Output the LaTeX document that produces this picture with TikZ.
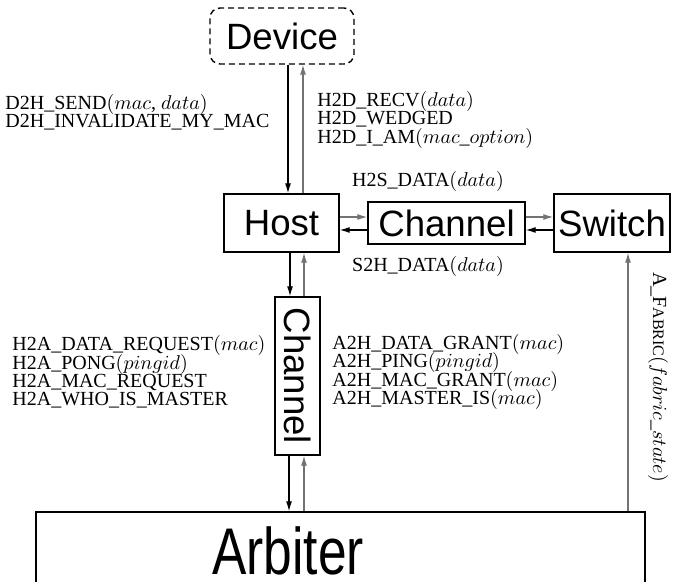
\documentclass[tikz,border=0pt]{standalone}
\usepackage{fontspec}
\setmainfont{Liberation Serif}
\setsansfont{Liberation Sans}
\usetikzlibrary{arrows.meta,calc,positioning}

\tikzset{
  blk/.style={draw,line width=0.7pt,inner sep=0pt,font=\fontsize{18.3}{20}\sffamily},
  msg/.style={font={\fontsize{10}{9.2}\selectfont\lineskiplimit=-10pt},inner sep=0pt,align=left},
  dn/.style={-{Latex[length=5pt,width=3pt]},line width=0.6pt},
  up/.style={dn,draw=black!55}
}

\begin{document}
\begin{tikzpicture}[x=0.5pt,y=-0.5pt]

\useasboundingbox (0,0) rectangle (681,582);
\clip (0,0) rectangle (681,582);

% boxes
\node[blk,dashed,dash pattern=on 3pt off 2pt,rounded corners=5pt,
      minimum width=72pt,minimum height=28pt] (device) at (282,36) {Device};
\node[blk,minimum width=57.5pt,minimum height=29pt] (host)   at (281.5,223) {Host};
\node[blk,minimum width=78.5pt,minimum height=21pt] (chanh)  at (446.5,223) {Channel};
\node[blk,minimum width=58pt,minimum height=29pt]   (switch) at (612,223)   {Switch};
\node[blk,minimum width=22.5pt,minimum height=79pt] (chanv)  at (297.5,376) {\rotatebox{-90}{Channel}};
\node[draw,line width=0.7pt,minimum width=304.5pt,minimum height=60pt] (arbiter) at (340.5,572) {};
\node[font=\fontsize{33}{34}\sffamily,anchor=base,inner sep=0pt] (arblabel) at (288,575) {\scalebox{0.78}[1]{Arbiter}};

% arrow end points
\coordinate (dh1) at ($(device.south)+(6,0)$);
\coordinate (dh2) at ($(device.south)+(21,0)$);
\coordinate (hc1) at ($(host.east)+(0,-6)$);
\coordinate (hc2) at ($(host.east)+(0,7)$);
\coordinate (cs1) at ($(chanh.east)+(0,-6)$);
\coordinate (cs2) at ($(chanh.east)+(0,7)$);
\coordinate (hv1) at ($(chanv.north)+(-7.5,0)$);
\coordinate (hv2) at ($(chanv.north)+(6.5,0)$);
\coordinate (va1) at ($(chanv.south)+(-8.5,0)$);
\coordinate (va2) at ($(chanv.south)+(6.5,0)$);
\coordinate (as1) at ($(switch.south)+(16,0)$);

% device <-> host
\draw[dn] (dh1) -- (dh1 |- host.north);
\draw[up] (dh2 |- host.north) -- (dh2);

% host <-> channel <-> switch
\draw[up] (hc1) -- (hc1 -| chanh.west);
\draw[dn] (hc2 -| chanh.west) -- (hc2);
\draw[up] (cs1) -- (cs1 -| switch.west);
\draw[dn] (cs2 -| switch.west) -- (cs2);

% host <-> channel <-> arbiter
\draw[dn] (hv1 |- host.south) -- (hv1);
\draw[up] (hv2) -- (hv2 |- host.south);
\draw[dn] (va1) -- (va1 |- arbiter.north);
\draw[up] (va2 |- arbiter.north) -- (va2);

% arbiter -> switch
\draw[up] (as1 |- arbiter.north) -- (as1);

% messages
\node[msg,anchor=west] (d2h) at (5,112)
  {D2H\_SEND$(mac$, $data)$\\D2H\_INVALIDATE\_MY\_MAC};
\node[msg,anchor=west] (h2d) at (317,120)
  {H2D\_RECV$(data)$\\H2D\_WEDGED\\H2D\_I\_AM$(mac\_option)$};
\node[msg] (h2s) at (428,182) {H2S\_DATA$(data)$};
\node[msg] (s2h) at (428,267) {S2H\_DATA$(data)$};
\node[msg,anchor=west] (h2a) at (12,372)
  {H2A\_DATA\_REQUEST$(mac)$\\H2A\_PONG$(pingid)$\\H2A\_MAC\_REQUEST\\H2A\_WHO\_IS\_MASTER};
\node[msg,anchor=west] (a2h) at (332,372)
  {A2H\_DATA\_GRANT$(mac)$\\A2H\_PING$(pingid)$\\A2H\_MAC\_GRANT$(mac)$\\A2H\_MASTER\_IS$(mac)$};
\node[msg,rotate=-90] (fabric) at (658,377)
  {A\_F{\fontsize{8}{8}\selectfont ABRIC}$(fabric\_state)$};

\end{tikzpicture}
\end{document}
